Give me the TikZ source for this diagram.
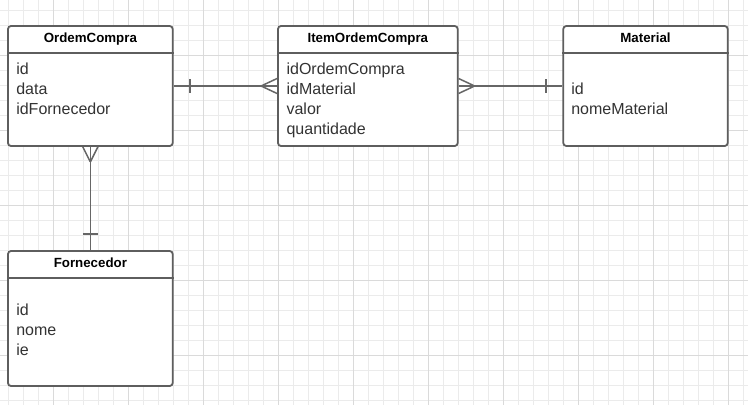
\documentclass[tikz,border=0pt]{standalone}
\usepackage{fontspec}
\setmainfont{Liberation Sans}
\usetikzlibrary{calc}
\definecolor{gridminor}{HTML}{EBEBEB}
\definecolor{gridmajor}{HTML}{DADADA}
\definecolor{boxc}{HTML}{5E5E5E}
\definecolor{connc}{HTML}{666666}
\definecolor{txt}{HTML}{333333}
\begin{document}
\begin{tikzpicture}[x=1pt,y=-1pt,
  entity/.style={draw=boxc, fill=white, line width=1.8pt, rounded corners=3pt, inner sep=0pt},
  hline/.style={draw=boxc, line width=1.8pt},
  etitle/.style={font=\fontsize{13.3}{16}\selectfont\bfseries, text=black, inner sep=0pt, anchor=base},
  attr/.style={font=\fontsize{16}{20}\selectfont, text=txt, inner sep=0pt, anchor=base west},
  conn/.style={draw=connc, line width=1.5pt}]
\useasboundingbox (0,0) rectangle (748,405);
\fill[white] (0,0) rectangle (748,405);
% grid
\foreach \i in {0,...,49} \draw[gridminor, line width=1pt] ({8.33+15*\i},0) -- ({8.33+15*\i},405);
\foreach \j in {0,...,27} \draw[gridminor, line width=1pt] (0,{10+15*\j}) -- (748,{10+15*\j});
\foreach \i in {0,...,9} \draw[gridmajor, line width=1pt] ({53.33+75*\i},0) -- ({53.33+75*\i},405);
\foreach \j in {0,...,4} \draw[gridmajor, line width=1pt] (0,{55+75*\j}) -- (748,{55+75*\j});

% entities
\node[entity, minimum width=164.7pt, minimum height=120pt] (oc) at (90.35,86) {};
\node[entity, minimum width=179.7pt, minimum height=120pt] (item) at (367.85,86) {};
\node[entity, minimum width=164.4pt, minimum height=120pt] (mat) at (645.5,86) {};
\node[entity, minimum width=164.7pt, minimum height=135pt] (forn) at (90.35,318.5) {};

\foreach \e in {oc,item,mat,forn}
  \draw[hline] ($(\e.north west)+(0,27.7)$) -- ($(\e.north east)+(0,27.7)$);

\node[etitle] (ocT) at ($(oc.north)+(0,17.7)$) {OrdemCompra};
\node[etitle] (itemT) at ($(item.north)+(0,17.7)$) {ItemOrdemCompra};
\node[etitle] (matT) at ($(mat.north)+(0,17.7)$) {Material};
\node[etitle] (fornT) at ($(forn.north)+(0,17.7)$) {Fornecedor};

\foreach \t [count=\k] in {id,data,idFornecedor}
  \node[attr] (oc-\k) at ($(oc.north west)+(9,29+20*\k)$) {\t};
\foreach \t [count=\k] in {idOrdemCompra,idMaterial,valor,quantidade}
  \node[attr] (item-\k) at ($(item.north west)+(9.3,29+20*\k)$) {\t};
\foreach \t [count=\k] in {id,nomeMaterial}
  \node[attr] (mat-\k) at ($(mat.north west)+(8.7,49+20*\k)$) {\t};
\foreach \t [count=\k] in {id,nome,ie}
  \node[attr] (forn-\k) at ($(forn.north west)+(9,45.5+20*\k)$) {\t};

% OrdemCompra -- ItemOrdemCompra
\draw[conn] (oc.east) -- (item.west);
\draw[conn] ($(oc.east)+(16.3,-7)$) -- ($(oc.east)+(16.3,7)$);
\draw[conn] ($(item.west)+(-16,0)$) -- ($(item.west)+(0,-7.5)$);
\draw[conn] ($(item.west)+(-16,0)$) -- ($(item.west)+(0,7.5)$);

% ItemOrdemCompra -- Material
\draw[conn] (item.east) -- (mat.west);
\draw[conn] ($(item.east)+(16,0)$) -- ($(item.east)+(0,-7.5)$);
\draw[conn] ($(item.east)+(16,0)$) -- ($(item.east)+(0,7.5)$);
\draw[conn] ($(mat.west)+(-16.6,-7)$) -- ($(mat.west)+(-16.6,7)$);

% OrdemCompra -- Fornecedor
\draw[conn] (oc.south) -- (forn.north);
\draw[conn] ($(oc.south)+(0,15)$) -- ($(oc.south)+(-7.5,0)$);
\draw[conn] ($(oc.south)+(0,15)$) -- ($(oc.south)+(7.5,0)$);
\draw[conn] ($(forn.north)+(-7.5,-16)$) -- ($(forn.north)+(7.5,-16)$);
\end{tikzpicture}
\end{document}
